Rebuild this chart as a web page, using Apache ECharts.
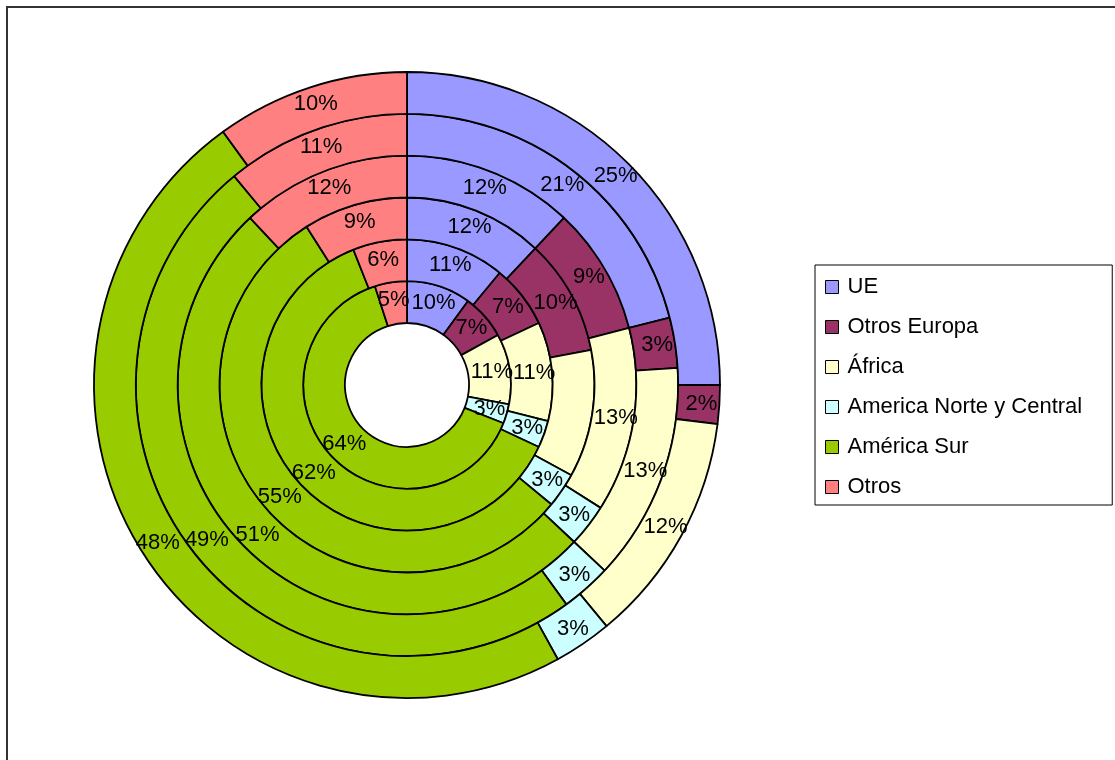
<!DOCTYPE html>
<html>
<head>
<meta charset="utf-8">
<script src="https://cdn.jsdelivr.net/npm/echarts@6/dist/echarts.min.js"></script>
<style>
  html, body { margin: 0; padding: 0; background: #fff; }
  #chart { width: 1115px; height: 760px; }
</style>
</head>
<body>
<div id="chart"></div>
<script>
// Categories, in drawing order (clockwise from 12 o'clock)
const categories = ['UE', 'Otros Europa', 'África', 'America Norte y Central', 'América Sur', 'Otros'];
const colors = ['#9999FF', '#993366', '#FFFFCC', '#CCFFFF', '#99CC00', '#FF8080'];

// Percentage shares per ring, innermost ring first
const ring1 = [10, 7, 11, 3, 64, 5];
const ring2 = [11, 7, 11, 3, 62, 6];
const ring3 = [12, 10, 11, 3, 55, 9];
const ring4 = [12, 9, 13, 3, 51, 12];
const ring5 = [21, 3, 13, 3, 49, 11];
const ring6 = [25, 2, 12, 3, 48, 10];
const rings = [ring1, ring2, ring3, ring4, ring5, ring6];

const FONT = 'Liberation Sans, Arial, sans-serif';
const cx = 407, cy = 385;
const holeR = 62, outerR = 313;
const step = (outerR - holeR) / rings.length;

const series = rings.map((vals, i) => ({
  type: 'pie',
  name: 'Anillo ' + (i + 1),
  center: [cx, cy],
  radius: [holeR + i * step, holeR + (i + 1) * step],
  startAngle: 90,
  clockwise: true,
  silent: true,
  animation: false,
  avoidLabelOverlap: false,
  itemStyle: { borderColor: '#000', borderWidth: 1.8 },
  label: {
    show: true,
    position: 'inside',
    formatter: '{c}%',
    color: '#000',
    fontFamily: FONT,
    fontSize: 22
  },
  labelLine: { show: false },
  emphasis: { disabled: true },
  data: categories.map((name, k) => ({
    name: name,
    value: vals[k],
    itemStyle: { color: colors[k] }
  }))
}));

const chart = echarts.init(document.getElementById('chart'), null, { renderer: 'canvas' });
chart.setOption({
  backgroundColor: '#fff',
  animation: false,
  legend: {
    orient: 'vertical',
    left: 815,
    top: 265,
    data: categories,
    icon: 'rect',
    itemWidth: 13,
    itemHeight: 13,
    itemGap: 18,
    padding: [11, 30, 7, 10],
    borderColor: '#000',
    borderWidth: 1,
    selectedMode: false,
    itemStyle: { borderColor: '#000', borderWidth: 1 },
    textStyle: { fontFamily: FONT, fontSize: 22, color: '#000', padding: [0, 0, 0, 4] }
  },
  graphic: [{
    type: 'rect',
    shape: { x: 7, y: 7, width: 1200, height: 900 },
    style: { fill: 'none', stroke: '#333', lineWidth: 2 },
    silent: true,
    z: -1
  }],
  series: series
});
</script>
</body>
</html>
